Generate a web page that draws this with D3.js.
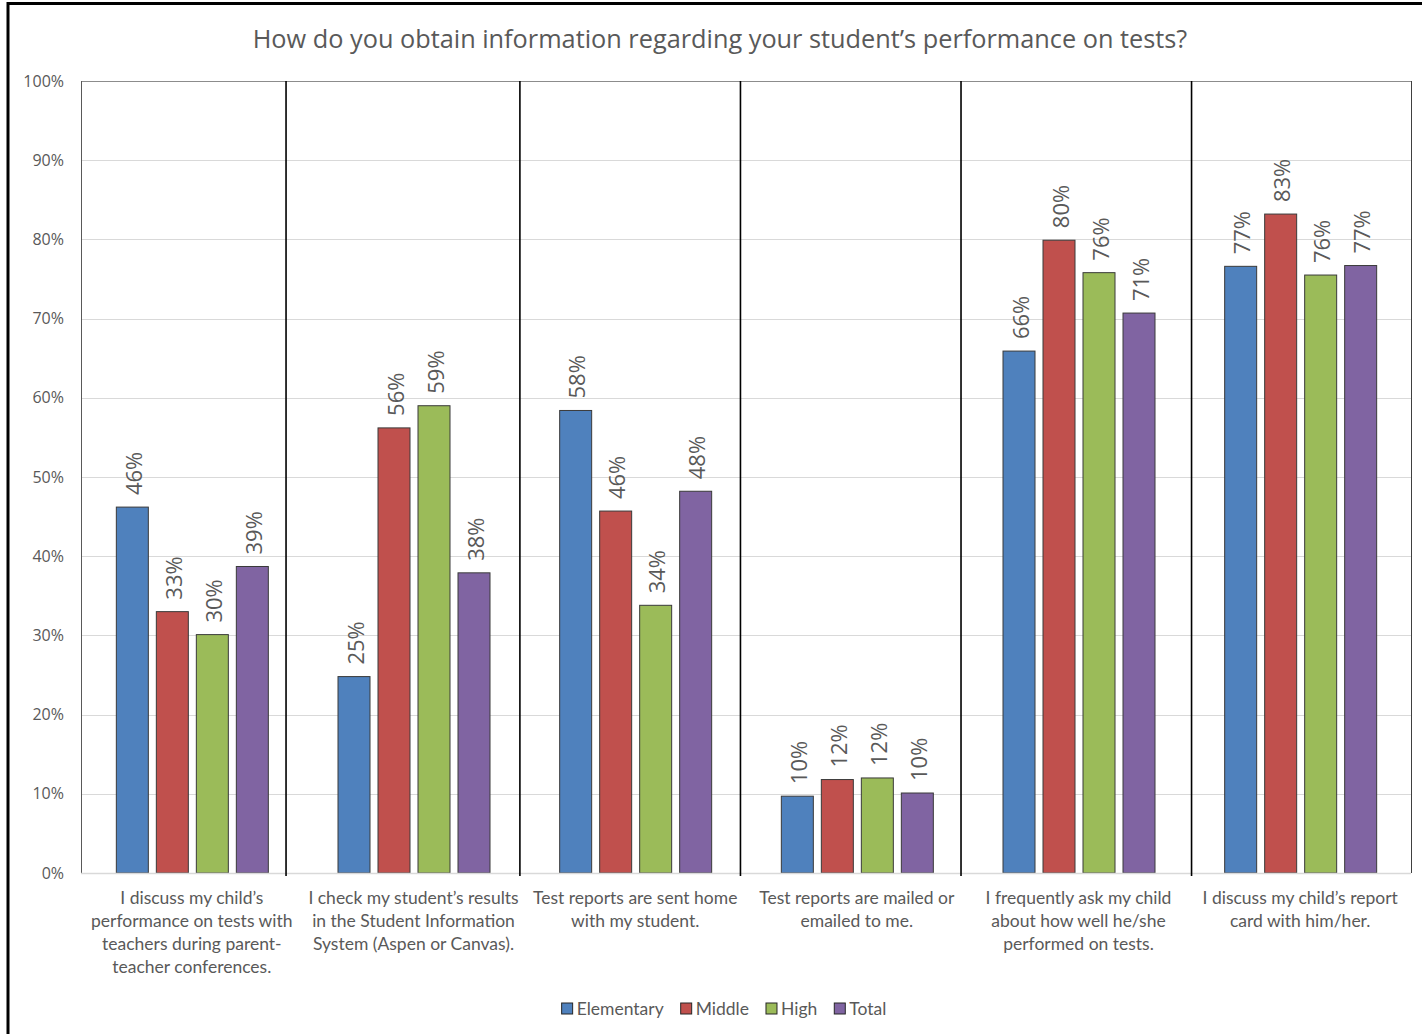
<!DOCTYPE html>
<html>
<head>
<meta charset="utf-8">
<script src="https://cdn.jsdelivr.net/npm/d3@7"></script>
<style>
  html, body { margin: 0; padding: 0; background: #fff; }
  svg { display: block; }
</style>
</head>
<body>
<svg id="chart" width="1422" height="1034"></svg>
<script>
const title = "How do you obtain information regarding your student\u2019s performance on tests?";
const categories = [
  ["I discuss my child\u2019s", "performance on tests with", "teachers during parent-", "teacher conferences."],
  ["I check my student\u2019s results", "in the Student Information", "System (Aspen or Canvas)."],
  ["Test reports are sent home", "with my student."],
  ["Test reports are mailed or", "emailed to me."],
  ["I frequently ask my child", "about how well he/she", "performed on tests."],
  ["I discuss my child\u2019s report", "card with him/her."]
];
const seriesNames = ["Elementary", "Middle", "High", "Total"];
const seriesColors = ["#4f81bd", "#c0504d", "#9bbb59", "#8064a2"];
const elementary = [46.2, 24.8, 58.4, 9.7, 65.9, 76.6];
const middle     = [33.0, 56.2, 45.7, 11.8, 79.9, 83.2];
const high       = [30.1, 59.0, 33.8, 12.0, 75.8, 75.5];
const total      = [38.7, 37.9, 48.2, 10.1, 70.7, 76.7];
const yTicks = [0, 10, 20, 30, 40, 50, 60, 70, 80, 90, 100];
// separator lines between groups, in category units (0 = left edge of plot)
const separators = [0.925, 1.98, 2.975, 3.97, 5.01];

const seriesValues = [elementary, middle, high, total];

const svg = d3.select("#chart");
const W = 1422, H = 1034;
const m = {left: 81, right: 1411, top: 81, bottom: 873};

// outer frame (top and left visible)
svg.append("line").attr("x1", 8).attr("x2", W).attr("y1", 3.5).attr("y2", 3.5)
  .attr("stroke", "#000").attr("stroke-width", 3);
svg.append("line").attr("x1", 8).attr("x2", 8).attr("y1", 2).attr("y2", H)
  .attr("stroke", "#000").attr("stroke-width", 3);

const x0 = d3.scaleBand().domain(d3.range(categories.length)).range([m.left, m.right]).paddingInner(0).paddingOuter(0);
const groupW = 152;
const x1 = d3.scaleBand().domain(d3.range(seriesNames.length)).range([0, groupW]).paddingInner(0.2).paddingOuter(0);
const y = d3.scaleLinear().domain([0, 100]).range([m.bottom, m.top]);
const xSep = d3.scaleLinear().domain([0, categories.length]).range([m.left, m.right]);

// gridlines
svg.append("g").selectAll("line").data(yTicks.filter(t => t > 0 && t < 100)).join("line")
  .attr("x1", m.left).attr("x2", m.right)
  .attr("y1", d => Math.round(y(d)) + 0.5).attr("y2", d => Math.round(y(d)) + 0.5)
  .attr("stroke", "#d9d9d9").attr("stroke-width", 1);

// plot frame
svg.append("line").attr("x1", m.left).attr("x2", m.right).attr("y1", m.top + 0.5).attr("y2", m.top + 0.5)
  .attr("stroke", "#8c8c8c");
svg.append("line").attr("x1", m.left + 0.5).attr("x2", m.left + 0.5).attr("y1", m.top).attr("y2", m.bottom)
  .attr("stroke", "#595959");
svg.append("line").attr("x1", m.right + 0.5).attr("x2", m.right + 0.5).attr("y1", m.top).attr("y2", m.bottom)
  .attr("stroke", "#404040");

// y axis labels
const yAxis = d3.axisLeft(y).tickValues(yTicks).tickFormat(d => d + "%").tickSize(0).tickPadding(17);
const ga = svg.append("g").attr("transform", `translate(${m.left},0)`).call(yAxis);
ga.select(".domain").remove();
ga.selectAll("text").attr("font-family", "'Open Sans', sans-serif").attr("font-size", 16).attr("fill", "#595959");

// bars
const groups = svg.append("g").selectAll("g").data(categories).join("g")
  .attr("transform", (d, i) => `translate(${x0(i) + (x0.bandwidth() - groupW) / 2},0)`);

groups.each(function(cat, ci) {
  const g = d3.select(this);
  const vals = seriesValues.map((s, si) => ({si, v: s[ci]}));
  g.selectAll("rect").data(vals).join("rect")
    .attr("x", d => x1(d.si) + 0.5)
    .attr("y", d => y(d.v))
    .attr("width", x1.bandwidth())
    .attr("height", d => y(0) - y(d.v))
    .attr("fill", d => seriesColors[d.si])
    .attr("stroke", "#3a3a3a").attr("stroke-width", 1);
  g.selectAll("text.lbl").data(vals).join("text").attr("class", "lbl")
    .attr("transform", d => `translate(${x1(d.si) + x1.bandwidth() / 2 + 1},${y(d.v) - 12}) rotate(-90)`)
    .attr("text-anchor", "start").attr("dominant-baseline", "central")
    .attr("font-family", "'Open Sans', sans-serif").attr("font-size", 22).attr("fill", "#595959")
    .text(d => Math.round(d.v) + "%");
});

// bottom axis line
svg.append("line").attr("x1", m.left).attr("x2", m.right).attr("y1", m.bottom + 0.5).attr("y2", m.bottom + 0.5)
  .attr("stroke", "#d9d9d9").attr("stroke-width", 1.5);

// separators
svg.append("g").selectAll("line").data(separators).join("line")
  .attr("x1", d => xSep(d)).attr("x2", d => xSep(d))
  .attr("y1", m.top).attr("y2", m.bottom + 3)
  .attr("stroke", "#000").attr("stroke-width", 1.6);

// category labels
const cl = svg.append("g").selectAll("text").data(categories).join("text")
  .attr("x", (d, i) => x0(i) + x0.bandwidth() / 2)
  .attr("y", 904)
  .attr("text-anchor", "middle")
  .attr("font-family", "Lato, sans-serif").attr("font-size", 17.5).attr("fill", "#595959");
cl.selectAll("tspan").data(d => d).join("tspan")
  .attr("x", function() { return d3.select(this.parentNode).attr("x"); })
  .attr("dy", (d, i) => i === 0 ? 0 : 23)
  .text(d => d);

// title
svg.append("text").attr("x", 720).attr("y", 48).attr("text-anchor", "middle")
  .attr("font-family", "'Open Sans', sans-serif").attr("font-size", 25.3).attr("fill", "#595959")
  .text(title);

// legend
const legend = svg.append("g");
const legendItems = legend.selectAll("g").data(seriesNames).join("g");
legendItems.append("rect").attr("width", 11).attr("height", 11)
  .attr("fill", (d, i) => seriesColors[i]).attr("stroke", "#262626").attr("stroke-width", 1);
legendItems.append("text").attr("x", 15).attr("y", 5.5).attr("dominant-baseline", "central")
  .attr("font-family", "Lato, sans-serif").attr("font-size", 17.5).attr("fill", "#595959")
  .text(d => d);
let lx = 0;
legendItems.each(function() {
  const w = this.getBBox().width;
  d3.select(this).attr("data-x", lx);
  lx += w + 17;
});
const totalW = lx - 17;
const startX = 724 - totalW / 2;
legendItems.attr("transform", function() {
  return `translate(${startX + (+d3.select(this).attr("data-x"))},${1003})`;
});
</script>
</body>
</html>
